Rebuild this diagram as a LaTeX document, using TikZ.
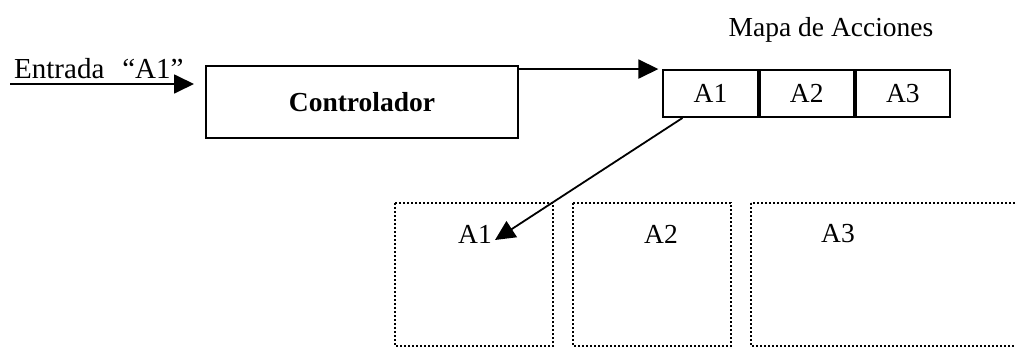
\documentclass[tikz,border=0pt]{standalone}
\usepackage{fontspec}
\setmainfont{Liberation Serif}
\usetikzlibrary{arrows.meta}
\begin{document}
\begin{tikzpicture}[x=1pt,y=-1pt,
  txt/.style={font=\fontsize{27.5}{32}\selectfont},
  solidbox/.style={draw, line width=1.9pt, inner sep=0pt},
  cell/.style={solidbox, minimum width=94.3pt, minimum height=47pt, txt},
  actbox/.style={draw, line width=1.8pt, dash pattern=on 2.2pt off 1.8pt},
  arr/.style={line width=1.8pt, -{Triangle[length=20pt,width=19pt]}}]
\useasboundingbox (0,0) rectangle (1015,348);
\clip (0,0) rectangle (1015,348);

% input arrow with its label
\coordinate (in) at (10,84);
\node[font=\fontsize{29}{32}\selectfont, anchor=base west, inner sep=0pt] (entrada)
  at (14,78) {Entrada\hspace{18pt}“A1”};
\coordinate (inend) at (194,84);
\draw[arr] (in) -- (inend);

% controller
\node[solidbox, minimum width=312pt, minimum height=72pt,
      font=\fontsize{27.5}{32}\selectfont\bfseries] (ctrl) at (362,102) {Controlador};

% action map
\node[txt, anchor=base] (maptitle) at (831,36) {Mapa de Acciones};
\node[cell] (m1) at (710.5,93.5) {A1};
\node[cell, anchor=west] (m2) at (m1.east) {A2};
\node[cell, anchor=west] (m3) at (m2.east) {A3};
\draw[arr] ([yshift=-4pt]ctrl.north east) -- ([xshift=-4pt]m1.north west);

% action areas
\draw[actbox] (395,203) rectangle (553,346);
\draw[actbox] (573,203) rectangle (731,346);
\draw[actbox] (751,203) rectangle (1040,346);
\node[txt] (a1) at (475,234) {A1};
\node[txt] (a2) at (661,234) {A2};
\node[txt] (a3) at (838,234) {A3};

% dispatch from the map entry to its action
\coordinate (tip) at (495,240);
\draw[arr] ([xshift=-28pt]m1.south) -- (tip);
\end{tikzpicture}
\end{document}
